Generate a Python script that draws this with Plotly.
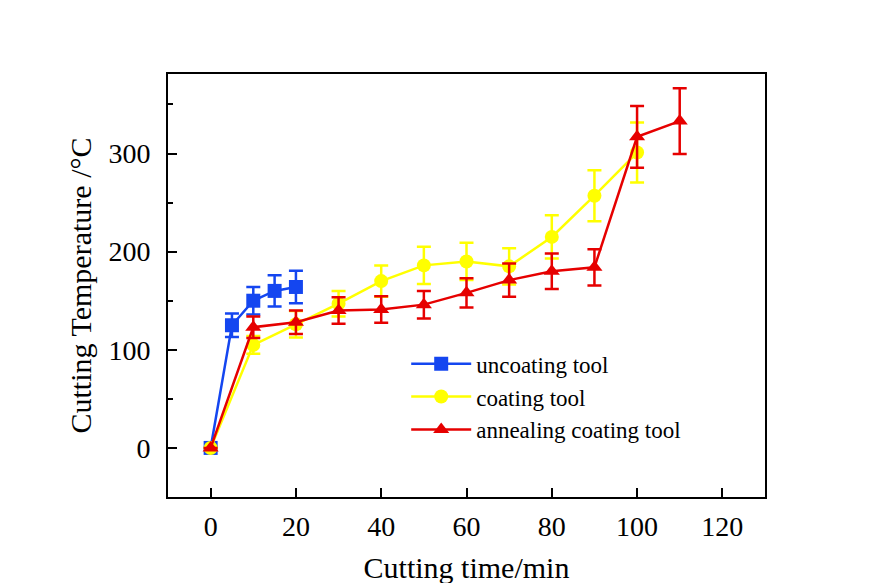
import plotly.graph_objects as go

# Data
x_uncoat = [0, 5, 10, 15, 20]
y_uncoat = [0, 125, 150, 160, 164]
e_uncoat = [0, 12, 14, 16, 16.5]

x_coat = [0, 10, 20, 30, 40, 50, 60, 70, 80, 90, 100]
y_coat = [0, 105, 126, 147, 170, 186, 190, 185, 215, 257, 301]
e_coat = [0, 9, 13.5, 13, 16, 19, 19, 18.5, 22, 26, 30.5]

x_anneal = [0, 10, 20, 30, 40, 50, 60, 70, 80, 90, 100, 110]
y_anneal = [0, 123, 128, 140, 141, 146, 158, 171, 180, 184, 317, 333]
e_anneal = [0, 11, 12, 13.5, 13.5, 14, 15, 17, 18, 18.5, 31.5, 33.5]

x_ticks = [0, 20, 40, 60, 80, 100, 120]
y_ticks = [0, 100, 200, 300]
y_minor = [50, 150, 250, 350]

names = ["uncoating tool", "coating tool", "annealing coating tool"]
colors = ["#1446F0", "#FFFF00", "#E60000"]
symbols = ["square", "circle", "triangle-up"]

series = [(x_uncoat, y_uncoat, e_uncoat), (x_coat, y_coat, e_coat), (x_anneal, y_anneal, e_anneal)]

fig = go.Figure()
for (xs, ys, es), name, c, s in zip(series, names, colors, symbols):
    fig.add_trace(go.Scatter(
        x=xs, y=ys, name=name, mode="lines+markers",
        line=dict(color=c, width=2.5),
        marker=dict(symbol=s, size=14, color=c),
        error_y=dict(type="data", array=es, visible=True, color=c, thickness=2.5, width=7),
    ))

font_family = "Liberation Serif, Times New Roman, serif"
fig.update_layout(
    width=870, height=583,
    margin=dict(l=160, r=113, t=66, b=89),
    paper_bgcolor="white", plot_bgcolor="white",
    font=dict(family=font_family, size=28, color="black"),
    showlegend=True,
    legend=dict(x=0.399, y=0.366, xanchor="left", yanchor="top",
                font=dict(family=font_family, size=23, color="black"),
                bgcolor="rgba(0,0,0,0)", tracegroupgap=0, itemwidth=60),
)
fig.update_xaxes(
    range=[-10, 130], tickvals=x_ticks,
    showgrid=False, zeroline=False,
    showline=True, linecolor="black", linewidth=2, mirror=True,
    ticks="inside", ticklen=9, tickwidth=2, tickcolor="black",
    ticklabelstandoff=3,
    title=dict(text="Cutting time/min", font=dict(size=30), standoff=16),
    tickfont=dict(size=28),
)
fig.update_yaxes(
    range=[-50, 381], tickvals=y_ticks,
    showgrid=False, zeroline=False,
    showline=True, linecolor="black", linewidth=2, mirror=True,
    ticks="inside", ticklen=9, tickwidth=2, tickcolor="black",
    ticklabelstandoff=10,
    minor=dict(tickvals=y_minor, ticks="inside", ticklen=5, tickwidth=2, tickcolor="black"),
    title=dict(text="Cutting Temperature /°C", font=dict(size=30), standoff=8),
    tickfont=dict(size=28),
)

fig.write_html("out.html")
